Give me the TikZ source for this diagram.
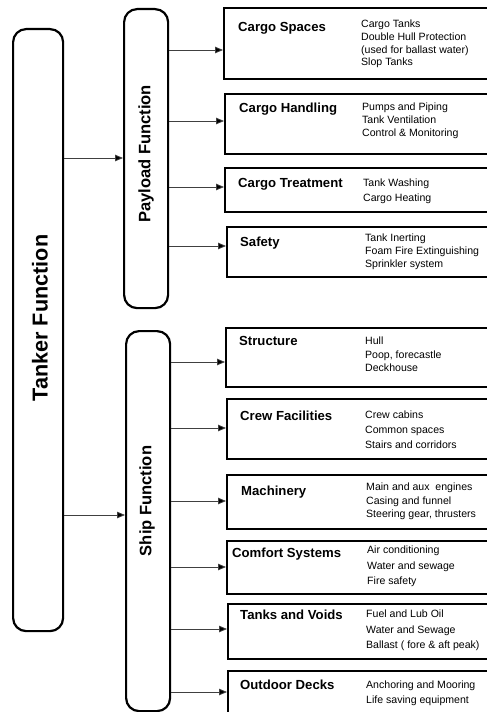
\documentclass[tikz,border=0pt]{standalone}
\usepackage{fontspec}
\setmainfont{Liberation Sans}
\usetikzlibrary{arrows.meta}

\begin{document}
\begin{tikzpicture}[x=1bp, y=-1bp,
  pillar/.style={draw, line width=2.2bp, rounded corners=13bp, inner sep=0,
    anchor=north west},
  subbox/.style={draw, line width=1.8bp, inner sep=0, anchor=north west},
  vlabel/.style={rotate=90, inner sep=0, font=\bfseries},
  title/.style={anchor=base west, inner sep=0,
    font=\fontsize{13.2}{15}\selectfont\bfseries},
  % item lists are placed by the baseline of their last line
  desc/.style={anchor=base west, inner sep=0, align=left,
    font=\fontsize{10.6}{#1}\selectfont},
  desc/.default=13,
  arr/.style={draw=black!75, line width=0.8bp,
    -{Triangle[length=8bp, width=6.5bp, fill=black]}}
]
\clip (0,0) rectangle (487,712);
\useasboundingbox (0,0) rectangle (487,712);

% the three rounded columns
\node[pillar, minimum width=50bp, minimum height=602bp] (tanker) at (12,28) {};
\node[pillar, minimum width=44bp, minimum height=299bp] (payload) at (123,8) {};
\node[pillar, minimum width=44bp, minimum height=380bp] (ship) at (125,330) {};

\node[vlabel, font=\fontsize{21.7}{24}\selectfont\bfseries] at (40,318) {Tanker Function};
\node[vlabel, font=\fontsize{16.6}{19}\selectfont\bfseries] at (146,154) {Payload Function};
\node[vlabel, font=\fontsize{16.6}{19}\selectfont\bfseries] at (147,501) {Ship Function};

% payload sub-functions
\node[subbox, minimum width=277bp, minimum height=71bp] (cs) at (223,7) {};
\node[subbox, minimum width=276bp, minimum height=60bp] (ch) at (224,93) {};
\node[subbox, minimum width=276bp, minimum height=44bp] (ct) at (224,167) {};
\node[subbox, minimum width=274bp, minimum height=50bp] (sa) at (226,226) {};

% ship sub-functions
\node[subbox, minimum width=275bp, minimum height=59bp] (st) at (225,327) {};
\node[subbox, minimum width=274bp, minimum height=60bp] (cf) at (226,398) {};
\node[subbox, minimum width=274bp, minimum height=54bp] (ma) at (226,474) {};
\node[subbox, minimum width=274bp, minimum height=53bp] (co) at (226,540) {};
\node[subbox, minimum width=273bp, minimum height=55bp] (tv) at (227,603) {};
\node[subbox, minimum width=273bp, minimum height=70bp] (od) at (227,670) {};

% titles
\node[title] (cs-t) at (238,31.7) {Cargo Spaces};
\node[title] (ch-t) at (239,112.7) {Cargo Handling};
\node[title] (ct-t) at (238,187.7) {Cargo Treatment};
\node[title] (sa-t) at (240,246.8) {Safety};
\node[title] (st-t) at (239,345.7) {Structure};
\node[title] (cf-t) at (240,420.7) {Crew Facilities};
\node[title] (ma-t) at (241,495.7) {Machinery};
\node[title] (co-t) at (232,557.7) {Comfort Systems};
\node[title] (tv-t) at (240,619.7) {Tanks and Voids};
\node[title] (od-t) at (240,689.7) {Outdoor Decks};

% item lists
\node[desc=12.7] (cs-d) at (361,65.9) {Cargo Tanks\\Double Hull Protection\\(used for ballast water)\\Slop Tanks};
\node[desc=13] (ch-d) at (362,136.8) {Pumps and Piping\\Tank Ventilation\\Control \& Monitoring};
\node[desc=15] (ct-d) at (363,201.8) {Tank Washing\\Cargo Heating};
\node[desc=13] (sa-d) at (365,267.8) {Tank Inerting\\Foam Fire Extinguishing\\Sprinkler system};
\node[desc=13.5] (st-d) at (365,371.8) {Hull\\Poop, forecastle\\Deckhouse};
\node[desc=15] (cf-d) at (365,448.8) {Crew cabins\\Common spaces\\Stairs and corridors};
\node[desc=13.5] (ma-d) at (366,517.8) {Main and aux\ \ engines\\Casing and funnel\\Steering gear, thrusters};
\node[desc=15.5] (co-d) at (367,584.8) {Air conditioning\\Water and sewage\\Fire safety};
\node[desc=15.5] (tv-d) at (366,648.8) {Fuel and Lub Oil\\Water and Sewage\\Ballast ( fore \& aft peak)};
\node[desc=15] (od-d) at (366,703.8) {Anchoring and Mooring\\Life saving equipment};

% connectors
\draw[arr] (tanker.east |- 0,158) -- (payload.west |- 0,158);
\draw[arr] (tanker.east |- 0,515) -- (ship.west |- 0,515);

\draw[arr] (payload.east |- 0,50) -- (cs.west |- 0,50);
\draw[arr] (payload.east |- 0,121) -- (ch.west |- 0,121);
\draw[arr] (payload.east |- 0,187) -- (ct.west |- 0,187);
\draw[arr] (payload.east |- 0,246) -- (sa.west |- 0,246);

\draw[arr] (ship.east |- 0,362) -- (st.west |- 0,362);
\draw[arr] (ship.east |- 0,428) -- (cf.west |- 0,428);
\draw[arr] (ship.east |- 0,501) -- (ma.west |- 0,501);
\draw[arr] (ship.east |- 0,567) -- (co.west |- 0,567);
\draw[arr] (ship.east |- 0,629) -- (tv.west |- 0,629);
\draw[arr] (ship.east |- 0,692) -- (od.west |- 0,692);
\end{tikzpicture}
\end{document}
